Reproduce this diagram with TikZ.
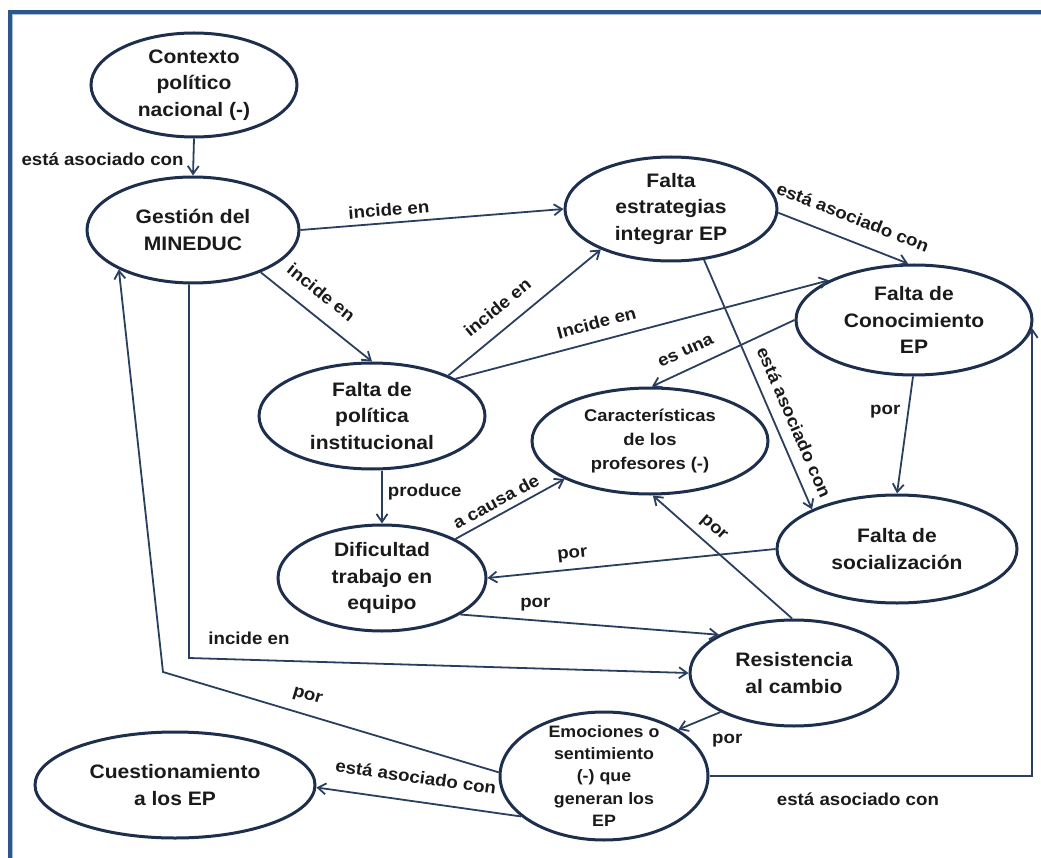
\documentclass[tikz,border=0pt]{standalone}
\usepackage{fontspec}
\setmainfont{Liberation Sans}[FakeStretch=1.08]
\usetikzlibrary{shapes.geometric, arrows.meta}

\definecolor{ellcol}{HTML}{1E2F4D}
\definecolor{conncol}{HTML}{2A3F5F}
\definecolor{framecol}{HTML}{2E5688}
\definecolor{framelite}{HTML}{A9C0DD}
\definecolor{txtcol}{HTML}{1A1A1A}

\newcommand\conceptfont{\fontsize{19.5}{26.5}\selectfont\bfseries}
\newcommand\smallconceptfont{\fontsize{17}{24}\selectfont\bfseries}
\newcommand\tinyconceptfont{\fontsize{16.5}{22.3}\selectfont\bfseries}
\newcommand\linkfont{\fontsize{17.3}{19}\selectfont\bfseries}

\tikzset{
  concept/.style={ellipse, draw=ellcol, line width=3pt, fill=white,
    inner sep=-30pt, align=center, text=txtcol, font=\conceptfont},
  conn/.style={draw=conncol, line width=1.8pt,
    -{Straight Barb[length=8pt, width=11pt]}},
  lbl/.style={font=\linkfont, text=txtcol, inner sep=1pt},
}

\begin{document}
\begin{tikzpicture}[x=1pt, y=-1pt]
\useasboundingbox (0,0) rectangle (1041,858);

% frame
\draw[framelite, line width=1.2pt] (12.8,858) -- (12.8,14.8) -- (1041,14.8);
\draw[framecol, line width=4pt] (10,858) -- (10,12) -- (1041,12);

% concepts
\node[concept, minimum width=206pt, minimum height=104pt] (ctx) at (194,85)
  {Contexto\\ político\\ nacional (-)};
\node[concept, minimum width=212pt, minimum height=106pt] (gest) at (193,230)
  {Gestión del\\ MINEDUC};
\node[concept, minimum width=212pt, minimum height=104pt] (estr) at (671,209)
  {Falta\\ estrategias\\ integrar EP};
\node[concept, minimum width=236pt, minimum height=110pt] (conoc) at (914,320)
  {Falta de\\ Conocimiento\\ EP};
\node[concept, minimum width=226pt, minimum height=106pt] (polit) at (372,416)
  {Falta de\\ política\\ institucional};
\node[concept, font=\smallconceptfont, minimum width=236pt, minimum height=106pt] (caract) at (650,441)
  {Características\\ de los\\ profesores (-)};
\node[concept, minimum width=208pt, minimum height=106pt] (dific) at (382,578)
  {Dificultad\\ trabajo en\\ equipo};
\node[concept, minimum width=240pt, minimum height=108pt] (social) at (897,549)
  {Falta de\\ socialización};
\node[concept, minimum width=208pt, minimum height=106pt] (resist) at (794,673)
  {Resistencia\\ al cambio};
\node[concept, font=\tinyconceptfont, minimum width=208pt, minimum height=128pt] (emoc) at (604,776)
  {Emociones o\\ sentimiento\\ (-) que\\ generan los\\ EP};
\node[concept, minimum width=280pt, minimum height=106pt] (cuest) at (175,785)
  {Cuestionamiento\\ a los EP};

% bend points of the routed links
\coordinate (gk) at (189,658);
\coordinate (ek) at (163,672);
\coordinate (ck) at (conoc.-4 |- emoc.east);

% links
\draw[conn] (ctx.south) -- node[lbl, left=8pt, pos=0.57] {está asociado con} (gest.north);
\draw[conn] (gest.east) -- node[lbl, sloped, above=5pt, pos=0.34] {incide en} (estr.west);
\draw[conn] (gest.-32.7) -- node[lbl, sloped, above=14pt, pos=0.42] {incide en} (polit.north);
\draw[conn] (polit.28.7) -- node[lbl, sloped, above=13pt, pos=0.41] {incide en} (estr.-150.5);
\draw[conn] (polit.24.6) -- node[lbl, sloped, above=10pt, pos=0.39] {Incide en} (conoc.155);
\draw[conn] (estr.-2) -- node[lbl, sloped, above=15pt, pos=0.51] {está asociado con} (conoc.96);
\draw[conn] (estr.-57.3) -- node[lbl, sloped, above=10pt, pos=0.68] {está asociado con} (social.155);
\draw[conn] (conoc.west) -- node[lbl, sloped, above=11pt, pos=0.71] {es una} (caract.88);
\draw[conn] (conoc.-91) -- node[lbl, left=6pt, pos=0.3] {por} (social.north);
\draw[conn] (dific.north |- polit.south) -- node[lbl, right=4pt, pos=0.41] {produce} (dific.north);
\draw[conn] (dific.28.3) -- node[lbl, sloped, above=5pt, pos=0.43] {a causa de} (caract.204);
\draw[conn] (social.west) -- node[lbl, sloped, above=6pt, pos=0.7] {por} (dific.east);
\draw[conn] (dific.-25.4) -- node[lbl, above=7pt, pos=0.29] {por} (resist.153);
\draw[conn] (gk |- gest.south) -- (gk) -- node[lbl, above=13pt, pos=0.12] {incide en} (resist.west);
\draw[conn] (resist.92) -- node[lbl, sloped, above=7pt, pos=0.64] {por} (caract.-87);
\draw[conn] (resist.208.4) -- node[lbl, pos=0.1, anchor=north west, xshift=-6pt, yshift=-18pt] {por} (emoc.32.8);
\draw[conn] (emoc.178) -- node[lbl, sloped, above=9pt, pos=0.585] {por} (ek) -- (gest.208.7);
\draw[conn] (emoc.206) -- node[lbl, sloped, above=16pt, pos=0.53] {está asociado con} (cuest.-1);
\draw[conn] (emoc.east) -- node[lbl, below=15pt, pos=0.46] {está asociado con} (ck) -- (conoc.-4);
\end{tikzpicture}
\end{document}
